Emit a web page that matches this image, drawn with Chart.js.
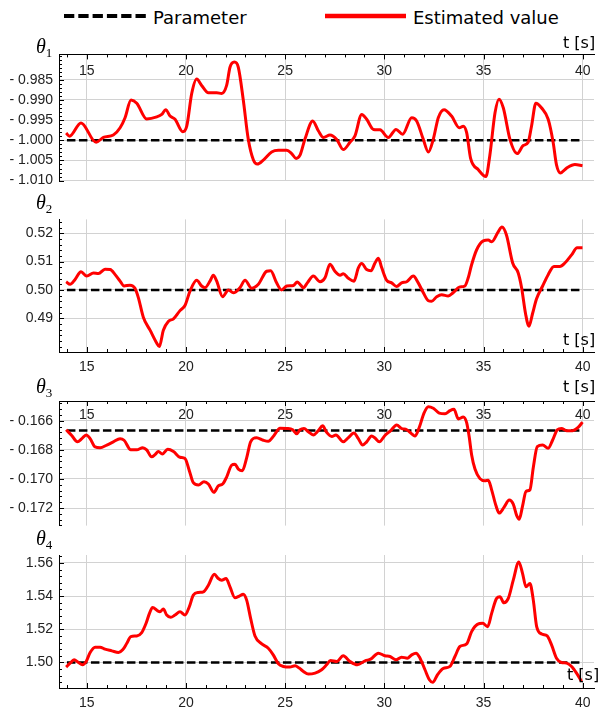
<!DOCTYPE html>
<html>
<head>
<meta charset="utf-8">
<script src="https://cdn.jsdelivr.net/npm/chart.js@4.4.1/dist/chart.umd.min.js"></script>
<style>
  body { margin: 0; background: #fff; }
  #wrap { position: relative; width: 598px; height: 713px; overflow: hidden; background: #fff; }
  canvas { position: absolute; left: 0; }
  .lbl { position: absolute; white-space: nowrap; color: #000; }
  .theta { font: italic 20px/20px "Liberation Serif", serif; }
  .theta span { font-style: normal; font-size: 13px; position: relative; top: 4px; }
  .unit { font: 16px/16px "DejaVu Sans", sans-serif; }
  .leg { font: 18px/18px "DejaVu Sans", sans-serif; }
</style>
</head>
<body>
<div id="wrap">
  <svg class="lbl" style="left:64px;top:12px" width="82" height="8"><line x1="0" y1="4" x2="82" y2="4" stroke="#000" stroke-width="4" stroke-dasharray="10.3 4"/></svg>
  <span class="lbl leg" style="left:153px;top:9px">Parameter</span>
  <svg class="lbl" style="left:325px;top:12px" width="81" height="8"><line x1="0" y1="4" x2="81" y2="4" stroke="#ff0000" stroke-width="4.5"/></svg>
  <span class="lbl leg" style="left:413px;top:9px">Estimated value</span>

  <canvas id="p1" width="598" height="155" style="top:40px"></canvas>
  <canvas id="p2" width="598" height="170" style="top:205px"></canvas>
  <canvas id="p3" width="598" height="160" style="top:380px"></canvas>
  <canvas id="p4" width="598" height="173" style="top:540px"></canvas>

  <span class="lbl theta" style="left:36px;top:36px">θ<span>1</span></span>
  <span class="lbl theta" style="left:36px;top:192px">θ<span>2</span></span>
  <span class="lbl theta" style="left:36px;top:376px">θ<span>3</span></span>
  <span class="lbl theta" style="left:36px;top:528px">θ<span>4</span></span>

  <span class="lbl unit" style="left:563px;top:35px">t [s]</span>
  <span class="lbl unit" style="left:563px;top:332px">t [s]</span>
  <span class="lbl unit" style="left:563px;top:379px">t [s]</span>
  <span class="lbl unit" style="left:567px;top:667px">t [s]</span>
</div>
<script>
// time span of the parameter line
const tStart = 14;
const tEnd = 40;
const parameterValues = [-1.0, 0.5, -0.16667, 1.5];

const xTickLabels = [15, 20, 25, 30, 35, 40];
const yTicks1 = [-0.985, -0.99, -0.995, -1.0, -1.005, -1.01];
const yTicks2 = [0.49, 0.50, 0.51, 0.52];
const yTicks3 = [-0.166, -0.168, -0.170, -0.172];
const yTicks4 = [1.50, 1.52, 1.54, 1.56];

// theta 1
const theta1Time = [13.96, 14.13, 14.71, 15.47, 15.84, 16.34, 16.68, 16.93, 17.23, 17.52, 18.02, 18.53, 18.78, 18.98, 19.20, 19.45, 19.84, 20.04, 20.29, 20.54, 20.79, 21.13, 21.55, 21.80, 22.05, 22.22, 22.44, 22.64, 22.89, 23.14, 23.40, 23.60, 23.90, 24.32, 24.66, 25.08, 25.33, 25.55, 25.75, 26.00, 26.39, 26.68, 26.93, 27.26, 27.60, 27.93, 28.27, 28.52, 28.86, 29.11, 29.45, 29.78, 30.20, 30.59, 30.92, 31.38, 31.63, 31.96, 32.22, 32.47, 32.72, 33.01, 33.39, 33.78, 33.98, 34.15, 34.35, 34.74, 35.12, 35.32, 35.58, 35.78, 36.00, 36.33, 36.70, 37.00, 37.25, 37.42, 37.64, 37.93, 38.26, 38.51, 38.68, 38.88, 39.19, 39.61, 39.99];
const theta1Value = [-0.9982, -0.9990, -0.9957, -1.0005, -0.9993, -0.9987, -0.9969, -0.9944, -0.9900, -0.9908, -0.9947, -0.9942, -0.9936, -0.9924, -0.9940, -0.9948, -0.9979, -0.9965, -0.9884, -0.9848, -0.9864, -0.9882, -0.9882, -0.9884, -0.9864, -0.9819, -0.9806, -0.9819, -0.9900, -0.9997, -1.0049, -1.0059, -1.0049, -1.0029, -1.0025, -1.0025, -1.0033, -1.0045, -1.0037, -0.9997, -0.9952, -0.9977, -0.9993, -0.9987, -0.9998, -1.0023, -1.0005, -0.9989, -0.9936, -0.9948, -0.9973, -0.9974, -0.9993, -0.9973, -0.9985, -0.9944, -0.9952, -0.9997, -1.0029, -0.9997, -0.9944, -0.9924, -0.9940, -0.9969, -0.9965, -0.9981, -1.0045, -1.0073, -1.0090, -1.0037, -0.9932, -0.9898, -0.9920, -0.9997, -1.0033, -1.0013, -1.0005, -0.9965, -0.9908, -0.9920, -0.9948, -1.0005, -1.0061, -1.0081, -1.0069, -1.0060, -1.0063];

// theta 2
const theta2Time = [13.96, 14.16, 14.41, 14.71, 15.00, 15.34, 15.59, 15.92, 16.18, 16.43, 16.68, 16.88, 17.18, 17.43, 17.60, 17.85, 18.19, 18.53, 18.66, 18.86, 19.11, 19.37, 19.70, 19.95, 20.21, 20.54, 20.79, 20.96, 21.21, 21.38, 21.55, 21.85, 22.14, 22.39, 22.72, 22.98, 23.31, 23.65, 24.07, 24.27, 24.57, 24.82, 25.08, 25.42, 25.61, 25.75, 25.92, 26.12, 26.42, 26.76, 27.01, 27.26, 27.51, 27.77, 27.93, 28.19, 28.47, 28.69, 28.86, 29.11, 29.33, 29.53, 29.70, 29.87, 30.12, 30.37, 30.62, 30.87, 31.13, 31.46, 31.71, 31.96, 32.22, 32.38, 32.64, 32.89, 33.22, 33.48, 33.78, 34.06, 34.23, 34.40, 34.65, 34.99, 35.24, 35.41, 35.74, 35.93, 36.16, 36.47, 36.75, 36.92, 37.12, 37.29, 37.47, 37.67, 37.98, 38.26, 38.55, 38.85, 39.10, 39.44, 39.72, 39.99];
const theta2Value = [0.5029, 0.5020, 0.5037, 0.5064, 0.5049, 0.5060, 0.5058, 0.5073, 0.5072, 0.5054, 0.5031, 0.5014, 0.5017, 0.5006, 0.4973, 0.4904, 0.4858, 0.4812, 0.4800, 0.4858, 0.4889, 0.4898, 0.4927, 0.4945, 0.4997, 0.5034, 0.5014, 0.5008, 0.5031, 0.5052, 0.5031, 0.4976, 0.5000, 0.4990, 0.5008, 0.5034, 0.5006, 0.5020, 0.5066, 0.5068, 0.5025, 0.5000, 0.5014, 0.5016, 0.5028, 0.5020, 0.5008, 0.5025, 0.5049, 0.5029, 0.5043, 0.5091, 0.5066, 0.5052, 0.5057, 0.5041, 0.5031, 0.5078, 0.5093, 0.5072, 0.5068, 0.5095, 0.5112, 0.5078, 0.5034, 0.5025, 0.5012, 0.5025, 0.5029, 0.5049, 0.5025, 0.4991, 0.4962, 0.4960, 0.4976, 0.4983, 0.4979, 0.4991, 0.5010, 0.5014, 0.5043, 0.5089, 0.5141, 0.5173, 0.5176, 0.5170, 0.5205, 0.5222, 0.5193, 0.5095, 0.5060, 0.5008, 0.4916, 0.4872, 0.4916, 0.4968, 0.5014, 0.5054, 0.5083, 0.5083, 0.5095, 0.5124, 0.5149, 0.5149];

// theta 3
const theta3Time = [13.96, 14.24, 14.53, 14.75, 14.97, 15.17, 15.42, 15.67, 16.01, 16.34, 16.68, 16.88, 17.22, 17.52, 17.82, 18.02, 18.27, 18.44, 18.61, 18.81, 19.08, 19.37, 19.70, 19.95, 20.17, 20.37, 20.63, 20.91, 21.13, 21.41, 21.63, 21.85, 22.05, 22.30, 22.47, 22.64, 22.84, 23.06, 23.26, 23.56, 23.90, 24.15, 24.44, 24.74, 25.08, 25.38, 25.58, 25.75, 25.95, 26.17, 26.42, 26.67, 26.89, 27.09, 27.35, 27.56, 27.93, 28.19, 28.47, 28.69, 28.91, 29.11, 29.36, 29.53, 29.75, 30.03, 30.32, 30.62, 30.87, 31.13, 31.38, 31.54, 31.76, 32.00, 32.22, 32.47, 32.77, 33.06, 33.31, 33.51, 33.73, 33.98, 34.15, 34.28, 34.40, 34.57, 34.82, 35.07, 35.24, 35.41, 35.63, 35.79, 36.03, 36.30, 36.50, 36.67, 36.80, 36.97, 37.14, 37.34, 37.51, 37.71, 37.98, 38.26, 38.48, 38.72, 38.93, 39.19, 39.49, 39.77, 39.99];
const theta3Value = [-0.16662, -0.16701, -0.16745, -0.16723, -0.16697, -0.16723, -0.16780, -0.16785, -0.16767, -0.16745, -0.16723, -0.16734, -0.16800, -0.16800, -0.16785, -0.16800, -0.16848, -0.16833, -0.16811, -0.16829, -0.16796, -0.16811, -0.16851, -0.16859, -0.16943, -0.17026, -0.17042, -0.17020, -0.17035, -0.17092, -0.17048, -0.17035, -0.16987, -0.16906, -0.16899, -0.16932, -0.16943, -0.16855, -0.16745, -0.16716, -0.16734, -0.16741, -0.16701, -0.16651, -0.16653, -0.16662, -0.16690, -0.16662, -0.16653, -0.16675, -0.16697, -0.16668, -0.16635, -0.16679, -0.16708, -0.16697, -0.16745, -0.16716, -0.16684, -0.16723, -0.16767, -0.16745, -0.16705, -0.16719, -0.16745, -0.16701, -0.16668, -0.16629, -0.16653, -0.16662, -0.16690, -0.16705, -0.16646, -0.16547, -0.16503, -0.16514, -0.16547, -0.16552, -0.16530, -0.16521, -0.16587, -0.16574, -0.16613, -0.16712, -0.16833, -0.16932, -0.16998, -0.17013, -0.17009, -0.17075, -0.17185, -0.17235, -0.17196, -0.17145, -0.17174, -0.17251, -0.17277, -0.17185, -0.17086, -0.17075, -0.16921, -0.16778, -0.16767, -0.16789, -0.16734, -0.16662, -0.16653, -0.16668, -0.16668, -0.16646, -0.16609];

// theta 4
const theta4Time = [13.96, 14.16, 14.36, 14.58, 14.78, 14.97, 15.17, 15.42, 15.67, 15.92, 16.26, 16.60, 16.81, 17.02, 17.22, 17.52, 17.77, 17.99, 18.16, 18.32, 18.56, 18.69, 18.86, 19.03, 19.23, 19.45, 19.70, 19.95, 20.17, 20.37, 20.63, 20.88, 21.13, 21.43, 21.63, 21.80, 22.02, 22.22, 22.47, 22.69, 22.89, 23.06, 23.26, 23.48, 23.82, 24.15, 24.40, 24.66, 24.91, 25.24, 25.50, 25.71, 25.92, 26.17, 26.51, 26.84, 27.09, 27.29, 27.60, 27.93, 28.27, 28.64, 29.03, 29.31, 29.70, 30.03, 30.29, 30.59, 30.87, 31.16, 31.38, 31.60, 31.80, 32.05, 32.27, 32.44, 32.68, 32.98, 33.31, 33.56, 33.81, 34.15, 34.40, 34.69, 34.96, 35.21, 35.41, 35.66, 35.83, 36.03, 36.25, 36.50, 36.78, 36.97, 37.14, 37.34, 37.51, 37.68, 37.93, 38.21, 38.43, 38.68, 38.93, 39.19, 39.44, 39.69, 39.94];
const theta4Value = [1.4972, 1.4996, 1.5016, 1.5000, 1.4986, 1.5006, 1.5060, 1.5092, 1.5092, 1.5080, 1.5070, 1.5060, 1.5076, 1.5116, 1.5156, 1.5160, 1.5180, 1.5236, 1.5296, 1.5332, 1.5312, 1.5306, 1.5322, 1.5286, 1.5272, 1.5286, 1.5306, 1.5286, 1.5336, 1.5406, 1.5422, 1.5426, 1.5466, 1.5532, 1.5506, 1.5496, 1.5506, 1.5456, 1.5390, 1.5400, 1.5412, 1.5376, 1.5266, 1.5160, 1.5112, 1.5086, 1.5046, 1.4992, 1.4976, 1.4972, 1.4980, 1.4966, 1.4946, 1.4930, 1.4936, 1.4956, 1.4986, 1.5012, 1.5006, 1.5040, 1.5006, 1.4986, 1.5010, 1.5020, 1.5056, 1.5040, 1.5036, 1.5016, 1.5032, 1.5026, 1.5046, 1.5056, 1.5026, 1.4956, 1.4896, 1.4880, 1.4926, 1.4964, 1.4976, 1.5036, 1.5096, 1.5112, 1.5186, 1.5230, 1.5236, 1.5216, 1.5296, 1.5386, 1.5396, 1.5360, 1.5386, 1.5496, 1.5606, 1.5536, 1.5456, 1.5476, 1.5376, 1.5216, 1.5172, 1.5160, 1.5106, 1.5026, 1.5000, 1.4996, 1.4976, 1.4936, 1.4886];

const gridColor = "#d2d2d2";
const labelColor = "#222";
const labelFont = { family: "'Liberation Sans', Arial, sans-serif", size: 14 };

function inList(list, v) {
  return list.some((m) => Math.abs(m - v) < 1e-7);
}

function fmtY(v, dec) {
  return v < 0 ? "- " + Math.abs(v).toFixed(dec) : v.toFixed(dec);
}

// Mathematica-style axes: tick marks pointing inward, and for the panels whose
// time axis sits on top, the time labels hang just under the axis line
const innerTicks = {
  id: "innerTicks",
  beforeDatasetsDraw(chart, args, opts) {
    if (opts.labelOffset == null) return;
    const ctx = chart.ctx;
    const xs = chart.scales.x;
    ctx.save();
    ctx.fillStyle = labelColor;
    ctx.font = labelFont.size + "px " + labelFont.family;
    ctx.textAlign = "center";
    ctx.textBaseline = "middle";
    xTickLabels.forEach((v) => {
      ctx.fillText(String(v), xs.getPixelForValue(v), chart.chartArea.top + opts.labelOffset);
    });
    ctx.restore();
  },
  afterDraw(chart, args, opts) {
    const ctx = chart.ctx;
    const area = chart.chartArea;
    const xs = chart.scales.x;
    const ys = chart.scales.y;
    const atTop = xs.options.position === "top";
    const axisY = atTop ? area.top : area.bottom;
    ctx.save();
    ctx.strokeStyle = "#000";
    ctx.lineWidth = 1;
    ctx.beginPath();
    xs.ticks.forEach((t) => {
      const len = inList(xTickLabels, t.value) ? 5 : 3;
      const px = Math.round(xs.getPixelForValue(t.value)) + 0.5;
      ctx.moveTo(px, axisY);
      ctx.lineTo(px, atTop ? axisY + len : axisY - len);
    });
    ys.ticks.forEach((t) => {
      const len = inList(opts.yMajor, t.value) ? 5 : 3;
      const py = Math.round(ys.getPixelForValue(t.value)) + 0.5;
      ctx.moveTo(area.left, py);
      ctx.lineTo(area.left + len, py);
    });
    ctx.stroke();
    ctx.restore();
  },
};

function makePanel(id, times, values, param, p) {
  const atTop = p.xPos === "top";
  new Chart(document.getElementById(id), {
    type: "line",
    data: {
      datasets: [
        {
          data: times.map((t, i) => ({ x: t, y: values[i] })),
          borderColor: "#ff0000",
          borderWidth: 3,
          pointRadius: 0,
          cubicInterpolationMode: "monotone",
          fill: false,
        },
        {
          data: [{ x: tStart, y: param }, { x: tEnd, y: param }],
          borderColor: "#000",
          borderWidth: 2.5,
          borderDash: [8.5, 3.5],
          pointRadius: 0,
          fill: false,
        },
      ],
    },
    options: {
      responsive: false,
      animation: false,
      devicePixelRatio: 1,
      layout: { padding: { top: p.padTop, bottom: p.padBottom, left: 0, right: 4 } },
      plugins: {
        legend: { display: false },
        tooltip: { enabled: false },
        innerTicks: { yMajor: p.yTicks, labelOffset: atTop ? p.labelOffset : null },
      },
      scales: {
        x: {
          type: "linear",
          position: p.xPos,
          min: 13.6,
          max: 40.57,
          afterFit: (s) => { s.height = p.xHeight; },
          border: { display: true, color: "#000", width: 1 },
          grid: {
            drawTicks: false,
            lineWidth: 1,
            color: (c) => (c.tick && inList(xTickLabels, c.tick.value) ? gridColor : "rgba(0,0,0,0)"),
          },
          ticks: {
            display: !atTop,
            stepSize: 1,
            autoSkip: false,
            maxRotation: 0,
            includeBounds: false,
            padding: 7,
            color: labelColor,
            font: labelFont,
            callback: (v) => (inList(xTickLabels, v) ? String(v) : ""),
          },
        },
        y: {
          type: "linear",
          min: p.yMin,
          max: p.yMax,
          afterFit: (s) => { s.width = 59; },
          border: { display: true, color: "#000", width: 1 },
          grid: {
            drawTicks: false,
            lineWidth: 1,
            color: (c) => (c.tick && inList(p.yTicks, c.tick.value) ? gridColor : "rgba(0,0,0,0)"),
          },
          ticks: {
            stepSize: p.yMinor,
            autoSkip: false,
            includeBounds: false,
            padding: 6,
            color: labelColor,
            font: labelFont,
            callback: (v) => (inList(p.yTicks, v) ? fmtY(v, p.dec) : ""),
          },
        },
      },
    },
    plugins: [innerTicks],
  });
}

makePanel("p1", theta1Time, theta1Value, parameterValues[0], {
  xPos: "top", xHeight: 0, labelOffset: 16.5, padTop: 14, padBottom: 12,
  yMin: -1.0100, yMax: -0.9787, yMinor: 0.001, yTicks: yTicks1, dec: 3,
});
makePanel("p2", theta2Time, theta2Value, parameterValues[1], {
  xPos: "bottom", xHeight: 23, padTop: 13, padBottom: 0,
  yMin: 0.4781, yMax: 0.5249, yMinor: 0.002, yTicks: yTicks2, dec: 2,
});
makePanel("p3", theta3Time, theta3Value, parameterValues[2], {
  xPos: "top", xHeight: 0, labelOffset: 14.5, padTop: 21, padBottom: 9,
  yMin: -0.17321, yMax: -0.16464, yMinor: 0.0004, yTicks: yTicks3, dec: 3,
});
makePanel("p4", theta4Time, theta4Value, parameterValues[3], {
  xPos: "bottom", xHeight: 25, padTop: 15, padBottom: 0,
  yMin: 1.4846, yMax: 1.5648, yMinor: 0.004, yTicks: yTicks4, dec: 2,
});
</script>
</body>
</html>
